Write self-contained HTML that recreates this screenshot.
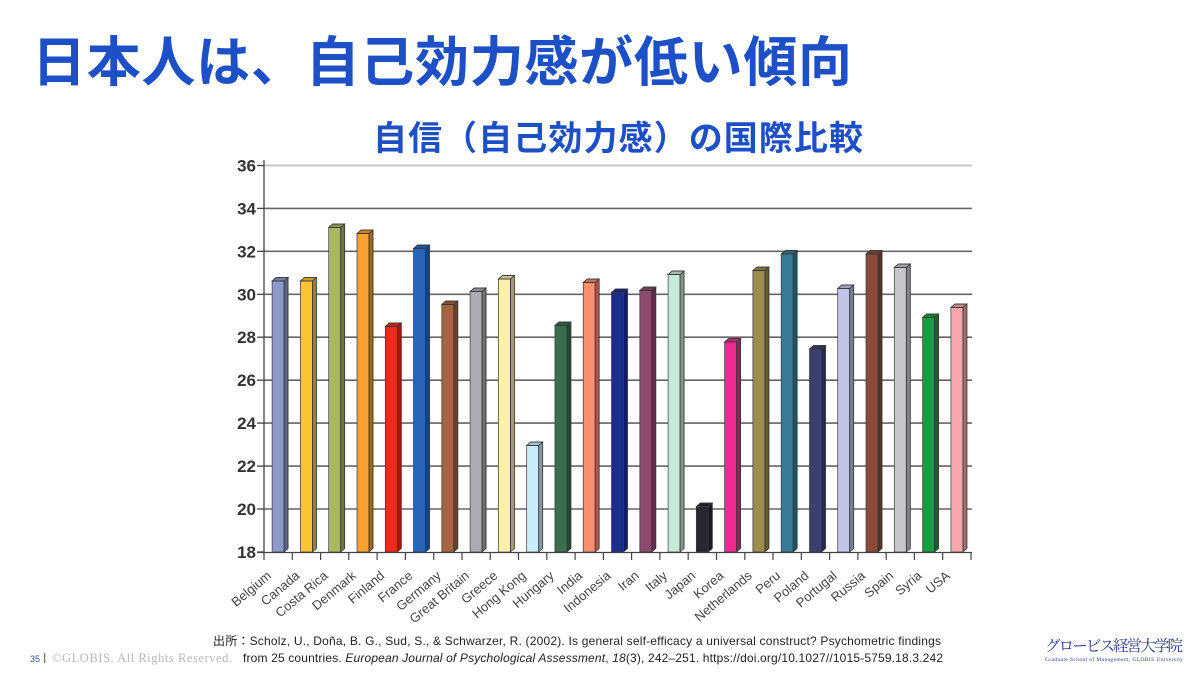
<!DOCTYPE html>
<html><head><meta charset="utf-8"><style>
html,body{margin:0;padding:0;background:#fff;}
svg{display:block;}
.lab{font-family:"Liberation Sans",Arial,sans-serif;font-size:13px;fill:#444;}
.yl{font-family:"Liberation Sans",Arial,sans-serif;font-size:17px;font-weight:bold;fill:#333;}
</style></head><body>
<svg width="1200" height="675" viewBox="0 0 1200 675" xmlns="http://www.w3.org/2000/svg">
<rect width="1200" height="675" fill="#fff"/>
<text x="32" y="81" font-family="'Liberation Sans','Noto Sans CJK JP',sans-serif" font-size="54" font-weight="bold" fill="#1d4fc6" textLength="820" lengthAdjust="spacing">日本人は、自己効力感が低い傾向</text>
<text x="373" y="150" font-family="'Liberation Sans','Noto Sans CJK JP',sans-serif" font-size="34" font-weight="bold" fill="#1d4fc6" textLength="490" lengthAdjust="spacing">自信（自己効力感）の国際比較</text>

<g stroke-width="1.6">
<line x1="264" y1="165.5" x2="972" y2="165.5" stroke="#c8c8c8" stroke-width="2"/>
<line x1="264" y1="208.4" x2="972" y2="208.4" stroke="#666"/>
<line x1="264" y1="251.3" x2="972" y2="251.3" stroke="#666"/>
<line x1="264" y1="294.3" x2="972" y2="294.3" stroke="#666"/>
<line x1="264" y1="337.2" x2="972" y2="337.2" stroke="#666"/>
<line x1="264" y1="380.2" x2="972" y2="380.2" stroke="#666"/>
<line x1="264" y1="423.1" x2="972" y2="423.1" stroke="#666"/>
<line x1="264" y1="466.1" x2="972" y2="466.1" stroke="#666"/>
<line x1="264" y1="509" x2="972" y2="509" stroke="#666"/>
</g>
<g stroke="#444" stroke-width="1.3">
<line x1="257" y1="165.5" x2="264" y2="165.5"/>
<line x1="257" y1="208.4" x2="264" y2="208.4"/>
<line x1="257" y1="251.3" x2="264" y2="251.3"/>
<line x1="257" y1="294.3" x2="264" y2="294.3"/>
<line x1="257" y1="337.2" x2="264" y2="337.2"/>
<line x1="257" y1="380.2" x2="264" y2="380.2"/>
<line x1="257" y1="423.1" x2="264" y2="423.1"/>
<line x1="257" y1="466.1" x2="264" y2="466.1"/>
<line x1="257" y1="509" x2="264" y2="509"/>
<line x1="257" y1="552" x2="264" y2="552"/>
<line x1="264" y1="160" x2="264" y2="552"/>
<line x1="257" y1="552.5" x2="972" y2="552.5"/>
</g>
<g class="yl" text-anchor="end">
<text x="256" y="171.5">36</text>
<text x="256" y="214.4">34</text>
<text x="256" y="257.3">32</text>
<text x="256" y="300.3">30</text>
<text x="256" y="343.2">28</text>
<text x="256" y="386.2">26</text>
<text x="256" y="429.1">24</text>
<text x="256" y="472.1">22</text>
<text x="256" y="515">20</text>
<text x="256" y="558">18</text>
</g>
<g stroke="#444" stroke-width="1.2">
<line x1="264" y1="552" x2="264" y2="560"/><line x1="292.3" y1="552" x2="292.3" y2="560"/><line x1="320.6" y1="552" x2="320.6" y2="560"/><line x1="348.8" y1="552" x2="348.8" y2="560"/><line x1="377.1" y1="552" x2="377.1" y2="560"/><line x1="405.4" y1="552" x2="405.4" y2="560"/><line x1="433.7" y1="552" x2="433.7" y2="560"/><line x1="462" y1="552" x2="462" y2="560"/><line x1="490.2" y1="552" x2="490.2" y2="560"/><line x1="518.5" y1="552" x2="518.5" y2="560"/><line x1="546.8" y1="552" x2="546.8" y2="560"/><line x1="575.1" y1="552" x2="575.1" y2="560"/><line x1="603.4" y1="552" x2="603.4" y2="560"/><line x1="631.6" y1="552" x2="631.6" y2="560"/><line x1="659.9" y1="552" x2="659.9" y2="560"/><line x1="688.2" y1="552" x2="688.2" y2="560"/><line x1="716.5" y1="552" x2="716.5" y2="560"/><line x1="744.8" y1="552" x2="744.8" y2="560"/><line x1="773" y1="552" x2="773" y2="560"/><line x1="801.3" y1="552" x2="801.3" y2="560"/><line x1="829.6" y1="552" x2="829.6" y2="560"/><line x1="857.9" y1="552" x2="857.9" y2="560"/><line x1="886.2" y1="552" x2="886.2" y2="560"/><line x1="914.4" y1="552" x2="914.4" y2="560"/><line x1="942.7" y1="552" x2="942.7" y2="560"/><line x1="971" y1="552" x2="971" y2="560"/>
</g>

<g stroke="#3a3a3a" stroke-width="0.7">
<g transform="translate(278.1,281)" fill="#8f98cc"><rect x="-6" width="12" height="271"/><rect x="6" width="4" height="271" transform="matrix(1,-.875,0,1,0,5.25)"/><rect x="6" width="4" height="271" transform="matrix(1,-.875,0,1,0,5.25)" fill="#000" fill-opacity=".35"/><polygon points="-6,0 6,0 10,-3.5 -2,-3.5"/><polygon points="-6,0 6,0 10,-3.5 -2,-3.5" fill="#000" fill-opacity=".18"/></g>
<g transform="translate(306.4,281)" fill="#fcc430"><rect x="-6" width="12" height="271"/><rect x="6" width="4" height="271" transform="matrix(1,-.875,0,1,0,5.25)"/><rect x="6" width="4" height="271" transform="matrix(1,-.875,0,1,0,5.25)" fill="#000" fill-opacity=".35"/><polygon points="-6,0 6,0 10,-3.5 -2,-3.5"/><polygon points="-6,0 6,0 10,-3.5 -2,-3.5" fill="#000" fill-opacity=".18"/></g>
<g transform="translate(334.7,227.5)" fill="#a9b85a"><rect x="-6" width="12" height="324.5"/><rect x="6" width="4" height="324.5" transform="matrix(1,-.875,0,1,0,5.25)"/><rect x="6" width="4" height="324.5" transform="matrix(1,-.875,0,1,0,5.25)" fill="#000" fill-opacity=".35"/><polygon points="-6,0 6,0 10,-3.5 -2,-3.5"/><polygon points="-6,0 6,0 10,-3.5 -2,-3.5" fill="#000" fill-opacity=".18"/></g>
<g transform="translate(363,233.5)" fill="#f8a030"><rect x="-6" width="12" height="318.5"/><rect x="6" width="4" height="318.5" transform="matrix(1,-.875,0,1,0,5.25)"/><rect x="6" width="4" height="318.5" transform="matrix(1,-.875,0,1,0,5.25)" fill="#000" fill-opacity=".35"/><polygon points="-6,0 6,0 10,-3.5 -2,-3.5"/><polygon points="-6,0 6,0 10,-3.5 -2,-3.5" fill="#000" fill-opacity=".18"/></g>
<g transform="translate(391.3,326.5)" fill="#f02a1a"><rect x="-6" width="12" height="225.5"/><rect x="6" width="4" height="225.5" transform="matrix(1,-.875,0,1,0,5.25)"/><rect x="6" width="4" height="225.5" transform="matrix(1,-.875,0,1,0,5.25)" fill="#000" fill-opacity=".35"/><polygon points="-6,0 6,0 10,-3.5 -2,-3.5"/><polygon points="-6,0 6,0 10,-3.5 -2,-3.5" fill="#000" fill-opacity=".18"/></g>
<g transform="translate(419.5,248.5)" fill="#2a64b8"><rect x="-6" width="12" height="303.5"/><rect x="6" width="4" height="303.5" transform="matrix(1,-.875,0,1,0,5.25)"/><rect x="6" width="4" height="303.5" transform="matrix(1,-.875,0,1,0,5.25)" fill="#000" fill-opacity=".35"/><polygon points="-6,0 6,0 10,-3.5 -2,-3.5"/><polygon points="-6,0 6,0 10,-3.5 -2,-3.5" fill="#000" fill-opacity=".18"/></g>
<g transform="translate(447.8,304.5)" fill="#a5653e"><rect x="-6" width="12" height="247.5"/><rect x="6" width="4" height="247.5" transform="matrix(1,-.875,0,1,0,5.25)"/><rect x="6" width="4" height="247.5" transform="matrix(1,-.875,0,1,0,5.25)" fill="#000" fill-opacity=".35"/><polygon points="-6,0 6,0 10,-3.5 -2,-3.5"/><polygon points="-6,0 6,0 10,-3.5 -2,-3.5" fill="#000" fill-opacity=".18"/></g>
<g transform="translate(476.1,291.5)" fill="#abadb2"><rect x="-6" width="12" height="260.5"/><rect x="6" width="4" height="260.5" transform="matrix(1,-.875,0,1,0,5.25)"/><rect x="6" width="4" height="260.5" transform="matrix(1,-.875,0,1,0,5.25)" fill="#000" fill-opacity=".35"/><polygon points="-6,0 6,0 10,-3.5 -2,-3.5"/><polygon points="-6,0 6,0 10,-3.5 -2,-3.5" fill="#000" fill-opacity=".18"/></g>
<g transform="translate(504.4,279)" fill="#fdf0a8"><rect x="-6" width="12" height="273"/><rect x="6" width="4" height="273" transform="matrix(1,-.875,0,1,0,5.25)"/><rect x="6" width="4" height="273" transform="matrix(1,-.875,0,1,0,5.25)" fill="#000" fill-opacity=".35"/><polygon points="-6,0 6,0 10,-3.5 -2,-3.5"/><polygon points="-6,0 6,0 10,-3.5 -2,-3.5" fill="#000" fill-opacity=".18"/></g>
<g transform="translate(532.7,445.5)" fill="#c8eefc"><rect x="-6" width="12" height="106.5"/><rect x="6" width="4" height="106.5" transform="matrix(1,-.875,0,1,0,5.25)"/><rect x="6" width="4" height="106.5" transform="matrix(1,-.875,0,1,0,5.25)" fill="#000" fill-opacity=".35"/><polygon points="-6,0 6,0 10,-3.5 -2,-3.5"/><polygon points="-6,0 6,0 10,-3.5 -2,-3.5" fill="#000" fill-opacity=".18"/></g>
<g transform="translate(560.9,325.5)" fill="#3b6e4e"><rect x="-6" width="12" height="226.5"/><rect x="6" width="4" height="226.5" transform="matrix(1,-.875,0,1,0,5.25)"/><rect x="6" width="4" height="226.5" transform="matrix(1,-.875,0,1,0,5.25)" fill="#000" fill-opacity=".35"/><polygon points="-6,0 6,0 10,-3.5 -2,-3.5"/><polygon points="-6,0 6,0 10,-3.5 -2,-3.5" fill="#000" fill-opacity=".18"/></g>
<g transform="translate(589.2,282.5)" fill="#f89070"><rect x="-6" width="12" height="269.5"/><rect x="6" width="4" height="269.5" transform="matrix(1,-.875,0,1,0,5.25)"/><rect x="6" width="4" height="269.5" transform="matrix(1,-.875,0,1,0,5.25)" fill="#000" fill-opacity=".35"/><polygon points="-6,0 6,0 10,-3.5 -2,-3.5"/><polygon points="-6,0 6,0 10,-3.5 -2,-3.5" fill="#000" fill-opacity=".18"/></g>
<g transform="translate(617.5,292.5)" fill="#1a2c8c"><rect x="-6" width="12" height="259.5"/><rect x="6" width="4" height="259.5" transform="matrix(1,-.875,0,1,0,5.25)"/><rect x="6" width="4" height="259.5" transform="matrix(1,-.875,0,1,0,5.25)" fill="#000" fill-opacity=".35"/><polygon points="-6,0 6,0 10,-3.5 -2,-3.5"/><polygon points="-6,0 6,0 10,-3.5 -2,-3.5" fill="#000" fill-opacity=".18"/></g>
<g transform="translate(645.8,290.5)" fill="#8c4a6c"><rect x="-6" width="12" height="261.5"/><rect x="6" width="4" height="261.5" transform="matrix(1,-.875,0,1,0,5.25)"/><rect x="6" width="4" height="261.5" transform="matrix(1,-.875,0,1,0,5.25)" fill="#000" fill-opacity=".35"/><polygon points="-6,0 6,0 10,-3.5 -2,-3.5"/><polygon points="-6,0 6,0 10,-3.5 -2,-3.5" fill="#000" fill-opacity=".18"/></g>
<g transform="translate(674.1,274.5)" fill="#c8e8d8"><rect x="-6" width="12" height="277.5"/><rect x="6" width="4" height="277.5" transform="matrix(1,-.875,0,1,0,5.25)"/><rect x="6" width="4" height="277.5" transform="matrix(1,-.875,0,1,0,5.25)" fill="#000" fill-opacity=".35"/><polygon points="-6,0 6,0 10,-3.5 -2,-3.5"/><polygon points="-6,0 6,0 10,-3.5 -2,-3.5" fill="#000" fill-opacity=".18"/></g>
<g transform="translate(702.3,506.5)" fill="#26282e"><rect x="-6" width="12" height="45.5"/><rect x="6" width="4" height="45.5" transform="matrix(1,-.875,0,1,0,5.25)"/><rect x="6" width="4" height="45.5" transform="matrix(1,-.875,0,1,0,5.25)" fill="#000" fill-opacity=".35"/><polygon points="-6,0 6,0 10,-3.5 -2,-3.5"/><polygon points="-6,0 6,0 10,-3.5 -2,-3.5" fill="#000" fill-opacity=".18"/></g>
<g transform="translate(730.6,342)" fill="#f02a90"><rect x="-6" width="12" height="210"/><rect x="6" width="4" height="210" transform="matrix(1,-.875,0,1,0,5.25)"/><rect x="6" width="4" height="210" transform="matrix(1,-.875,0,1,0,5.25)" fill="#000" fill-opacity=".35"/><polygon points="-6,0 6,0 10,-3.5 -2,-3.5"/><polygon points="-6,0 6,0 10,-3.5 -2,-3.5" fill="#000" fill-opacity=".18"/></g>
<g transform="translate(758.9,270.5)" fill="#9c8c50"><rect x="-6" width="12" height="281.5"/><rect x="6" width="4" height="281.5" transform="matrix(1,-.875,0,1,0,5.25)"/><rect x="6" width="4" height="281.5" transform="matrix(1,-.875,0,1,0,5.25)" fill="#000" fill-opacity=".35"/><polygon points="-6,0 6,0 10,-3.5 -2,-3.5"/><polygon points="-6,0 6,0 10,-3.5 -2,-3.5" fill="#000" fill-opacity=".18"/></g>
<g transform="translate(787.2,254)" fill="#3a7a98"><rect x="-6" width="12" height="298"/><rect x="6" width="4" height="298" transform="matrix(1,-.875,0,1,0,5.25)"/><rect x="6" width="4" height="298" transform="matrix(1,-.875,0,1,0,5.25)" fill="#000" fill-opacity=".35"/><polygon points="-6,0 6,0 10,-3.5 -2,-3.5"/><polygon points="-6,0 6,0 10,-3.5 -2,-3.5" fill="#000" fill-opacity=".18"/></g>
<g transform="translate(815.5,349)" fill="#3c406c"><rect x="-6" width="12" height="203"/><rect x="6" width="4" height="203" transform="matrix(1,-.875,0,1,0,5.25)"/><rect x="6" width="4" height="203" transform="matrix(1,-.875,0,1,0,5.25)" fill="#000" fill-opacity=".35"/><polygon points="-6,0 6,0 10,-3.5 -2,-3.5"/><polygon points="-6,0 6,0 10,-3.5 -2,-3.5" fill="#000" fill-opacity=".18"/></g>
<g transform="translate(843.7,288.5)" fill="#c0c4e8"><rect x="-6" width="12" height="263.5"/><rect x="6" width="4" height="263.5" transform="matrix(1,-.875,0,1,0,5.25)"/><rect x="6" width="4" height="263.5" transform="matrix(1,-.875,0,1,0,5.25)" fill="#000" fill-opacity=".35"/><polygon points="-6,0 6,0 10,-3.5 -2,-3.5"/><polygon points="-6,0 6,0 10,-3.5 -2,-3.5" fill="#000" fill-opacity=".18"/></g>
<g transform="translate(872,254)" fill="#8c4a38"><rect x="-6" width="12" height="298"/><rect x="6" width="4" height="298" transform="matrix(1,-.875,0,1,0,5.25)"/><rect x="6" width="4" height="298" transform="matrix(1,-.875,0,1,0,5.25)" fill="#000" fill-opacity=".35"/><polygon points="-6,0 6,0 10,-3.5 -2,-3.5"/><polygon points="-6,0 6,0 10,-3.5 -2,-3.5" fill="#000" fill-opacity=".18"/></g>
<g transform="translate(900.3,267.5)" fill="#c8c8cc"><rect x="-6" width="12" height="284.5"/><rect x="6" width="4" height="284.5" transform="matrix(1,-.875,0,1,0,5.25)"/><rect x="6" width="4" height="284.5" transform="matrix(1,-.875,0,1,0,5.25)" fill="#000" fill-opacity=".35"/><polygon points="-6,0 6,0 10,-3.5 -2,-3.5"/><polygon points="-6,0 6,0 10,-3.5 -2,-3.5" fill="#000" fill-opacity=".18"/></g>
<g transform="translate(928.6,317.5)" fill="#10a040"><rect x="-6" width="12" height="234.5"/><rect x="6" width="4" height="234.5" transform="matrix(1,-.875,0,1,0,5.25)"/><rect x="6" width="4" height="234.5" transform="matrix(1,-.875,0,1,0,5.25)" fill="#000" fill-opacity=".35"/><polygon points="-6,0 6,0 10,-3.5 -2,-3.5"/><polygon points="-6,0 6,0 10,-3.5 -2,-3.5" fill="#000" fill-opacity=".18"/></g>
<g transform="translate(956.9,307.5)" fill="#f8a8ac"><rect x="-6" width="12" height="244.5"/><rect x="6" width="4" height="244.5" transform="matrix(1,-.875,0,1,0,5.25)"/><rect x="6" width="4" height="244.5" transform="matrix(1,-.875,0,1,0,5.25)" fill="#000" fill-opacity=".35"/><polygon points="-6,0 6,0 10,-3.5 -2,-3.5"/><polygon points="-6,0 6,0 10,-3.5 -2,-3.5" fill="#000" fill-opacity=".18"/></g>
</g>

<g class="lab" text-anchor="end">
<text transform="translate(272.1,577) rotate(-40)">Belgium</text>
<text transform="translate(300.4,577) rotate(-40)">Canada</text>
<text transform="translate(328.7,577) rotate(-40)">Costa Rica</text>
<text transform="translate(357,577) rotate(-40)">Denmark</text>
<text transform="translate(385.3,577) rotate(-40)">Finland</text>
<text transform="translate(413.5,577) rotate(-40)">France</text>
<text transform="translate(441.8,577) rotate(-40)">Germany</text>
<text transform="translate(470.1,577) rotate(-40)">Great Britain</text>
<text transform="translate(498.4,577) rotate(-40)">Greece</text>
<text transform="translate(526.7,577) rotate(-40)">Hong Kong</text>
<text transform="translate(554.9,577) rotate(-40)">Hungary</text>
<text transform="translate(583.2,577) rotate(-40)">India</text>
<text transform="translate(611.5,577) rotate(-40)">Indonesia</text>
<text transform="translate(639.8,577) rotate(-40)">Iran</text>
<text transform="translate(668.1,577) rotate(-40)">Italy</text>
<text transform="translate(696.3,577) rotate(-40)">Japan</text>
<text transform="translate(724.6,577) rotate(-40)">Korea</text>
<text transform="translate(752.9,577) rotate(-40)">Netherlands</text>
<text transform="translate(781.2,577) rotate(-40)">Peru</text>
<text transform="translate(809.5,577) rotate(-40)">Poland</text>
<text transform="translate(837.7,577) rotate(-40)">Portugal</text>
<text transform="translate(866,577) rotate(-40)">Russia</text>
<text transform="translate(894.3,577) rotate(-40)">Spain</text>
<text transform="translate(922.6,577) rotate(-40)">Syria</text>
<text transform="translate(950.9,577) rotate(-40)">USA</text>
</g>

<text x="213" y="645" font-family="'Liberation Sans','Noto Sans CJK JP',sans-serif" font-size="12" fill="#222" textLength="728" lengthAdjust="spacing">出所：Scholz, U., Doña, B. G., Sud, S., &amp; Schwarzer, R. (2002). Is general self-efficacy a universal construct? Psychometric findings</text>
<text x="243" y="662" font-family="'Liberation Sans',Arial,sans-serif" font-size="12" fill="#222" textLength="700" lengthAdjust="spacing">from 25 countries. <tspan font-style="italic">European Journal of Psychological Assessment</tspan>, <tspan font-style="italic">18</tspan>(3), 242–251. https://doi.org/10.1027//1015-5759.18.3.242</text>

<text x="30" y="662" font-family="'Liberation Sans',Arial,sans-serif" font-size="9" fill="#3050a0">35</text>
<rect x="44" y="653" width="1.3" height="10" fill="#777"/>
<text x="52" y="662" font-family="'Liberation Serif',serif" font-size="12.5" fill="#b8b8b8" textLength="180" lengthAdjust="spacing">©GLOBIS. All Rights Reserved.</text>

<text x="1045" y="651" font-family="'Liberation Serif','Noto Serif CJK JP',serif" font-size="15.5" fill="#2a3a8a" textLength="138" lengthAdjust="spacing">グロービス経営大学院</text>
<text x="1045" y="661" font-family="'Liberation Serif',serif" font-size="5.5" fill="#2a3a8a" textLength="138" lengthAdjust="spacing">Graduate School of Management, GLOBIS University</text>
</svg>
</body></html>
